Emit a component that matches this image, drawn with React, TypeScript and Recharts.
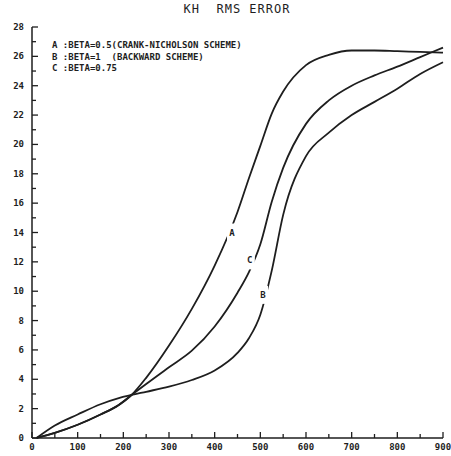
import React from 'react';
import { LineChart, Line, XAxis, YAxis, ReferenceDot } from 'recharts';

// KH RMS error vs time step, three values of beta
const steps = [10, 50, 100, 150, 190, 218, 250, 300, 350, 400, 450, 475, 500, 525, 550, 600, 650, 700, 750, 800, 850, 900];
const errA = [0, 0.35, 0.9, 1.6, 2.25, 2.93, 4.1, 6.3, 8.8, 11.75, 15.4, 17.7, 19.9, 22.1, 23.6, 25.4, 26.1, 26.4, 26.4, 26.35, 26.3, 26.25];
const errB = [0, 0.85, 1.6, 2.3, 2.72, 2.93, 3.15, 3.5, 3.95, 4.6, 5.8, 6.8, 8.4, 11.4, 15.2, 19.2, 20.8, 22.0, 22.9, 23.8, 24.8, 25.6];
const errC = [0, 0.35, 0.9, 1.6, 2.25, 2.93, 3.68, 4.82, 5.95, 7.6, 9.9, 11.3, 13.2, 16.1, 18.4, 21.4, 23.0, 24.0, 24.7, 25.3, 25.95, 26.6];

const xTicks = [0, 50, 100, 150, 200, 250, 300, 350, 400, 450, 500, 550, 600, 650, 700, 750, 800, 850, 900];
const yTicks = [0, 1, 2, 3, 4, 5, 6, 7, 8, 9, 10, 11, 12, 13, 14, 15, 16, 17, 18, 19, 20, 21, 22, 23, 24, 25, 26, 27, 28];

const tagNames = ['A', 'C', 'B'];
const tagX = [438, 477, 506];
const tagY = [14.0, 12.1, 9.75];

const legendLines = [
  'A :BETA=0.5(CRANK-NICHOLSON SCHEME)',
  'B :BETA=1  (BACKWARD SCHEME)',
  'C :BETA=0.75',
];

const data = steps.map((x, i) => ({ x, a: errA[i], b: errB[i], c: errC[i] }));

const INK = '#1e1e1e';
const FONT = '"DejaVu Sans Mono", monospace';

const BottomTick = (props: any) => {
  const { x, y, payload } = props;
  const major = payload.value % 100 === 0;
  return (
    <g>
      <line x1={x} y1={y} x2={x} y2={y - (major ? 6 : 4)} stroke={INK} strokeWidth={1.3} />
      {major && (
        <text x={x} y={y + 12} textAnchor="middle" fontSize={9} fontWeight="bold" fontFamily={FONT} fill={INK}>
          {payload.value}
        </text>
      )}
    </g>
  );
};

const TopTick = (props: any) => {
  const { x, y, payload } = props;
  const major = payload.value % 100 === 0;
  return <line x1={x} y1={y} x2={x} y2={y + (major ? 6 : 4)} stroke={INK} strokeWidth={1.3} />;
};

const LeftTick = (props: any) => {
  const { x, y, payload } = props;
  const major = payload.value % 2 === 0;
  return (
    <g>
      <line x1={x} y1={y} x2={x + (major ? 6 : 4)} y2={y} stroke={INK} strokeWidth={1.3} />
      {major && (
        <text x={x - 8} y={y + 3} textAnchor="end" fontSize={9} fontWeight="bold" fontFamily={FONT} fill={INK}>
          {payload.value}
        </text>
      )}
    </g>
  );
};

const RightTick = (props: any) => {
  const { x, y, payload } = props;
  const major = payload.value % 2 === 0;
  return <line x1={x} y1={y} x2={x - (major ? 6 : 4)} y2={y} stroke={INK} strokeWidth={1.3} />;
};

const CurveTag = (name: string) => (props: any) => {
  const { cx, cy } = props;
  return (
    <g>
      <rect x={cx - 5} y={cy - 9} width={10} height={18} fill="#fff" />
      <text x={cx} y={cy + 3} textAnchor="middle" fontSize={9} fontWeight="bold" fontFamily={FONT} fill={INK}>
        {name}
      </text>
    </g>
  );
};

export default function App() {
  return (
    <div style={{ position: 'absolute', left: 0, top: 0, width: 451, height: 456, background: '#fff' }}>
      <div
        style={{
          position: 'absolute',
          left: 0,
          width: 474,
          top: 2,
          textAlign: 'center',
          fontFamily: FONT,
          fontSize: 12,
          letterSpacing: 1,
          color: INK,
          whiteSpace: 'pre',
        }}
      >
        {'KH  RMS ERROR'}
      </div>
      <LineChart width={451} height={456} data={data} margin={{ top: 27, right: 8, bottom: 0, left: 0 }}>
        <XAxis
          xAxisId="bottom"
          dataKey="x"
          type="number"
          domain={[0, 900]}
          ticks={xTicks}
          interval={0}
          height={18}
          tickSize={0}
          tickMargin={0}
          tickLine={false}
          tick={<BottomTick />}
          axisLine={{ stroke: INK, strokeWidth: 1.5 }}
        />
        <XAxis
          xAxisId="top"
          orientation="top"
          dataKey="x"
          type="number"
          domain={[0, 900]}
          ticks={xTicks}
          interval={0}
          height={0}
          tickSize={0}
          tickMargin={0}
          tickLine={false}
          tick={<TopTick />}
          axisLine={{ stroke: INK, strokeWidth: 1.5 }}
        />
        <YAxis
          yAxisId="left"
          type="number"
          domain={[0, 28]}
          ticks={yTicks}
          interval={0}
          width={32}
          tickSize={0}
          tickMargin={0}
          tickLine={false}
          tick={<LeftTick />}
          axisLine={{ stroke: INK, strokeWidth: 1.5 }}
        />
        <YAxis
          yAxisId="right"
          orientation="right"
          type="number"
          domain={[0, 28]}
          ticks={yTicks}
          interval={0}
          width={0}
          tickSize={0}
          tickMargin={0}
          tickLine={false}
          tick={<RightTick />}
          axisLine={{ stroke: INK, strokeWidth: 1.5 }}
        />
        <Line xAxisId="bottom" yAxisId="left" type="monotone" dataKey="a" stroke={INK} strokeWidth={1.8} dot={false} isAnimationActive={false} />
        <Line xAxisId="bottom" yAxisId="left" type="monotone" dataKey="b" stroke={INK} strokeWidth={1.8} dot={false} isAnimationActive={false} />
        <Line xAxisId="bottom" yAxisId="left" type="monotone" dataKey="c" stroke={INK} strokeWidth={1.8} dot={false} isAnimationActive={false} />
        {tagNames.map((name, i) => (
          <ReferenceDot
            key={name}
            xAxisId="bottom"
            yAxisId="left"
            x={tagX[i]}
            y={tagY[i]}
            shape={CurveTag(name)}
          />
        ))}
      </LineChart>
      {legendLines.map((line, i) => (
        <div
          key={line}
          style={{
            position: 'absolute',
            left: 52,
            top: 40 + i * 11.5,
            fontFamily: FONT,
            fontSize: 9,
            fontWeight: 'bold',
            lineHeight: '11px',
            color: INK,
            whiteSpace: 'pre',
          }}
        >
          {line}
        </div>
      ))}
    </div>
  );
}
